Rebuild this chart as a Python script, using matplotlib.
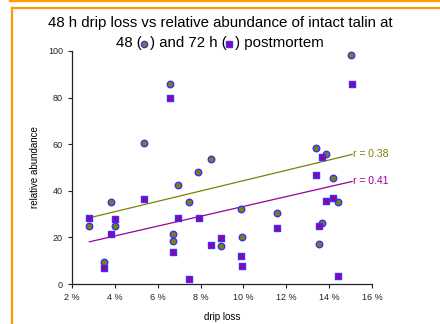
import numpy as np
import matplotlib
matplotlib.use('Agg')
import matplotlib.pyplot as plt
from matplotlib.lines import Line2D
from matplotlib.ticker import FuncFormatter

plt.rcParams['font.family'] = ['Liberation Sans', 'DejaVu Sans']

# 48 h postmortem (circles)
drip48 = [15.02, 6.57, 5.34, 7.88, 8.49, 6.93, 3.82, 7.47, 2.81, 3.99, 6.73, 6.70,
          3.48, 8.95, 9.89, 9.95, 11.58, 13.67, 13.51, 14.40, 13.37, 13.84, 14.18]
talin48 = [98.4, 85.9, 60.4, 48.0, 53.6, 42.4, 35.4, 35.0, 24.9, 24.9, 21.6, 18.4,
           9.3, 16.1, 32.3, 20.0, 30.3, 26.1, 17.0, 35.0, 58.4, 55.7, 45.7]

# 72 h postmortem (squares)
drip72 = [6.57, 5.34, 2.81, 3.99, 3.82, 6.93, 7.91, 6.73, 3.48, 7.47, 8.49, 8.95,
          9.87, 9.95, 11.58, 13.51, 13.85, 14.20, 14.40, 15.07, 13.68, 13.37]
talin72 = [79.9, 36.3, 28.4, 27.9, 21.6, 28.3, 28.2, 13.9, 7.0, 2.0, 16.6, 19.9,
           12.0, 7.9, 23.9, 25.0, 35.6, 36.9, 3.4, 85.9, 54.6, 46.9]

# trend lines (start, end)
trend_x = [2.81, 15.07]
trend48 = [28.4, 55.6]
trend72 = [18.1, 44.0]
r_labels = ['r = 0.38', 'r = 0.41']

olive = '#808000'
purple = '#990099'
edge = '#3333FF'

fig = plt.figure(figsize=(4.4, 3.24), dpi=100)

# orange frames
fig.add_artist(Line2D([10/440, 1], [1 - 1/324, 1 - 1/324], color='#FF9900', lw=1.6))
fig.add_artist(Line2D([10/440, 10/440], [1 - 1/324, 1], color='#FF9900', lw=1.6))
fig.add_artist(Line2D([11.5/440, 1], [1 - 7.5/324, 1 - 7.5/324], color='#FF9900', lw=1.6))
fig.add_artist(Line2D([11.5/440, 11.5/440], [0, 1 - 7.5/324], color='#FF9900', lw=1.6))

ax = fig.add_axes([72/440, 1 - 284/324, 300/440, 233/324])

ax.plot(trend_x, trend48, color=olive, lw=0.9)
ax.plot(trend_x, trend72, color=purple, lw=0.9)
ax.text(trend_x[1] + 0.05, trend48[1], r_labels[0], color=olive, fontsize=7.5, va='center')
ax.text(trend_x[1] + 0.05, trend72[1], r_labels[1], color=purple, fontsize=7.5, va='center')

ax.scatter(drip48, talin48, marker='o', s=22, facecolor=olive, edgecolor=edge, linewidth=1.0, zorder=3)
ax.scatter(drip72, talin72, marker='s', s=22, facecolor=purple, edgecolor=edge, linewidth=1.0, zorder=3)

ax.set_xlim(2, 16)
ax.set_ylim(0, 100)
ax.set_xticks(np.arange(2, 17, 2))
ax.set_yticks(np.arange(0, 101, 20))
ax.xaxis.set_major_formatter(FuncFormatter(lambda v, p: '%d %%' % v))
ax.tick_params(labelsize=6.5, length=3, width=0.8, colors='#222222', direction='out')
for s in ['top', 'right']:
    ax.spines[s].set_visible(False)
for s in ['left', 'bottom']:
    ax.spines[s].set_linewidth(0.9)
    ax.spines[s].set_color('#222222')
ax.set_xlabel('drip loss', fontsize=7, labelpad=7)
ax.set_ylabel('relative abundance', fontsize=7, labelpad=6)

fig.text(0.5, 1 - 23/324, '48 h drip loss vs relative abundance of intact talin at',
         ha='center', va='center', fontsize=10.8)
line2 = fig.text(0.5, 1 - 43/324, '48 (  ) and 72 h (  ) postmortem',
                 ha='center', va='center', fontsize=10.8)

# place the legend symbols inside the brackets of the second title line
renderer = fig.canvas.get_renderer()
full = line2.get_window_extent(renderer)
for piece, mk, fc, ms in [('48 ( ', 'o', olive, 4.5), ('48 (  ) and 72 h ( ', 's', purple, 4.4)]:
    tmp = fig.text(0, 0, piece.replace(' ', '\u00a0'), fontsize=10.8)
    w = tmp.get_window_extent(renderer).width
    tmp.remove()
    xm = (full.x0 + w - 2) / fig.bbox.width
    fig.add_artist(Line2D([xm], [1 - 44/324], marker=mk, markersize=ms, color=fc,
                          markeredgecolor=edge, markeredgewidth=1.0))

fig.savefig('out.png', dpi=100)
